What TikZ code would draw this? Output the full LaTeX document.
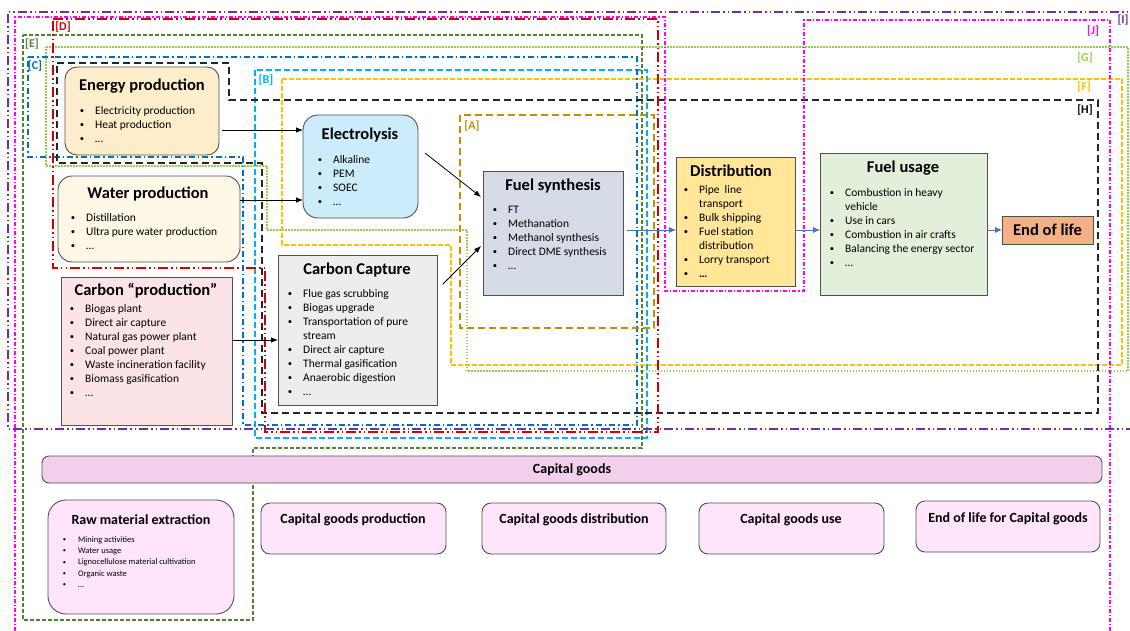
\documentclass[tikz,border=0pt]{standalone}
\usepackage{fontspec}
\usepackage{graphicx}
\setmainfont{Carlito}
\usetikzlibrary{arrows.meta}
\definecolor{cI}{HTML}{7030A0}
\definecolor{cJ}{HTML}{FF00FF}
\definecolor{cD}{HTML}{D00000}
\definecolor{cE}{HTML}{548235}
\definecolor{cG}{HTML}{92D050}
\definecolor{cC}{HTML}{0070C0}
\definecolor{cB}{HTML}{00B0F0}
\definecolor{cF}{HTML}{FFC000}
\definecolor{cA}{HTML}{BF9000}
\definecolor{bordergray}{HTML}{505050}
\definecolor{arrowblue}{HTML}{4472C4}
\definecolor{fEn}{HTML}{FEEDCB}
\definecolor{fWa}{HTML}{FFF8E6}
\definecolor{fEl}{HTML}{CCEBFB}
\definecolor{fFs}{HTML}{D6DCE5}
\definecolor{fCc}{HTML}{EDEDED}
\definecolor{fCp}{HTML}{FCE4E6}
\definecolor{fDi}{HTML}{FFE699}
\definecolor{fFu}{HTML}{E2EFDA}
\definecolor{fEo}{HTML}{F4B183}
\definecolor{fBar}{HTML}{F2D0EC}
\definecolor{fCg}{HTML}{FFE4FA}
\newcommand\bul{\strut\makebox[16pt][l]{\hspace*{0.6pt}\raisebox{0.12ex}{\scalebox{0.75}{\textbullet}}}}
\newcommand\ind{\strut\hspace*{16pt}}
\begin{document}
\begin{tikzpicture}[x=1pt,y=-1pt,
  bI/.style={draw=cI, line width=1.5pt, dash pattern=on 9pt off 3pt on 1.5pt off 3pt on 1.5pt off 3pt},
  bJ/.style={draw=cJ, line width=1.5pt, dash pattern=on 4pt off 2pt on 1.2pt off 2pt},
  bD/.style={draw=cD, line width=2pt, dash pattern=on 10pt off 3pt on 1.5pt off 3pt on 1.5pt off 3pt},
  bE/.style={draw=cE, line width=1.5pt, dash pattern=on 4pt off 2pt},
  bG/.style={draw=cG, line width=1.5pt, dash pattern=on 1.5pt off 1.5pt},
  bC/.style={draw=cC, line width=1.5pt, dash pattern=on 6pt off 3pt on 1.5pt off 3pt},
  bB/.style={draw=cB, line width=1.5pt, dash pattern=on 6pt off 3pt},
  bF/.style={draw=cF, line width=1.5pt, dash pattern=on 5pt off 2pt},
  bH/.style={draw=black!85, line width=1.8pt, dash pattern=on 7pt off 4pt},
  bA/.style={draw=cA, line width=1.5pt, dash pattern=on 7pt off 4pt},
  lab/.style={font=\fontsize{12}{14}\selectfont\bfseries, inner sep=0pt},
  box/.style={draw=bordergray, line width=0.9pt, anchor=north west, inner sep=0pt, outer sep=0pt},
  ttl/.style={font=\fontsize{16.5}{19}\selectfont\bfseries, inner sep=0pt, anchor=base},
  cttl/.style={font=\fontsize{14}{16}\selectfont\bfseries, inner sep=0pt, anchor=base},
  lst/.style={font=\fontsize{11.5}{14}\selectfont, inner sep=0pt, anchor=north west, align=left},
  slst/.style={font=\fontsize{8.5}{11.3}\selectfont, inner sep=0pt, anchor=north west, align=left},
  arr/.style={-{Latex[length=7pt,width=5.5pt]}, line width=0.8pt},
  barr/.style={arr, draw=arrowblue, -{Latex[length=7pt,width=6pt,fill=arrowblue]}}
]
\useasboundingbox (0,0) rectangle (1130,630);
\fill[white] (0,0) rectangle (1130,630);

% boundaries
\draw[bE] (23,35) -- (642,35) -- (642,448) -- (253,448) -- (253,620) -- (23,620) -- cycle;
\draw[bG] (46,47) -- (1128,47) -- (1128,371) -- (467,371) -- (467,230) -- (267,230) -- (267,166) -- (46,166) -- cycle;
\draw[bF] (282,79) -- (1122,79) -- (1122,365) -- (451,365) -- (451,245) -- (282,245) -- cycle;
\draw[bB] (255,70) rectangle (647,438);
\draw[bC] (28,57) -- (637,57) -- (637,425) -- (243,425) -- (243,157) -- (28,157) -- cycle;
\draw[bA] (460,115) rectangle (654,328);
\draw[bH] (57,63) -- (229,63) -- (229,100) -- (1098,100) -- (1098,413) -- (262,413) -- (262,163) -- (57,163) -- cycle;
\draw[bD] (53,19) -- (658,19) -- (658,432) -- (265,432) -- (265,268) -- (53,268) -- cycle;
\draw[bJ] (15,640) -- (15,17) -- (665,17) -- (665,291) -- (804,291) -- (804,20) -- (1110,20) -- (1110,640);
\draw[bI] (1140,12) -- (8,12) -- (8,429) -- (1140,429);

% labels
\node[lab, text=cD] (lD) at (63,27) {[D]};
\node[lab, text=cE] (lE) at (32,44) {[E]};
\node[lab, text=cC] (lC) at (35,66) {[C]};
\node[lab, text=cB] (lB) at (266,80) {[B]};
\node[lab, text=cA] (lA) at (472,126) {[A]};
\node[lab, text=cJ] (lJ) at (1093,31) {[J]};
\node[lab, text=cI] (lI) at (1123,20) {[I]};
\node[lab, text=cG] (lG) at (1085,58) {[G]};
\node[lab, text=cF] (lF) at (1084,87) {[F]};
\node[lab, text=black] (lH) at (1085,110) {[H]};

% main boxes
\node[box, rounded corners=12pt, fill=fEn, minimum width=154pt, minimum height=88pt] (en) at (65,67) {};
\node[ttl] (en-t) at (142,90.5) {Energy production};
\node[lst] (en-l) at (79,104) {\bul Electricity production\\ \bul Heat production\\ \bul …};

\node[box, rounded corners=14pt, fill=fWa, minimum width=182pt, minimum height=86pt] (wa) at (58,176) {};
\node[ttl] (wa-t) at (148,198.5) {Water production};
\node[lst] (wa-l) at (70,211) {\bul Distillation\\ \bul Ultra pure water production\\ \bul …};

\node[box, rounded corners=15pt, fill=fEl, minimum width=115pt, minimum height=103pt] (el) at (303,115) {};
\node[ttl] (el-t) at (360,139.5) {Electrolysis};
\node[lst] (el-l) at (317,153) {\bul Alkaline\\ \bul PEM\\ \bul SOEC\\ \bul …};

\node[box, fill=fFs, minimum width=140pt, minimum height=124pt] (fs) at (483,171) {};
\node[ttl] (fs-t) at (553,190.5) {Fuel synthesis};
\node[lst] (fs-l) at (492,203) {\bul FT\\ \bul Methanation\\ \bul Methanol synthesis\\ \bul Direct DME synthesis\\ \bul …};

\node[box, fill=fCc, minimum width=159pt, minimum height=150pt] (cc) at (278,255) {};
\node[ttl] (cc-t) at (357,274.5) {Carbon Capture};
\node[lst] (cc-l) at (287,287) {\bul Flue gas scrubbing\\ \bul Biogas upgrade\\ \bul Transportation of pure\\ \ind stream\\ \bul Direct air capture\\ \bul Thermal gasification\\ \bul Anaerobic digestion\\ \bul …};

\node[box, fill=fCp, minimum width=171pt, minimum height=148pt] (cp) at (61,277) {};
\node[ttl] (cp-t) at (146,295.5) {Carbon “production”};
\node[lst] (cp-l) at (69,302) {\bul Biogas plant\\ \bul Direct air capture\\ \bul Natural gas power plant\\ \bul Coal power plant\\ \bul Waste incineration facility\\ \bul Biomass gasification\\ \bul …};

\node[box, fill=fDi, minimum width=119pt, minimum height=129pt] (di) at (676,157) {};
\node[ttl] (di-t) at (731,176.5) {Distribution};
\node[lst] (di-l) at (683,183) {\bul Pipe\ \ line\\ \ind transport\\ \bul Bulk shipping\\ \bul Fuel station\\ \ind distribution\\ \bul Lorry transport\\ \bul \textbf{…}};

\node[box, fill=fFu, minimum width=167pt, minimum height=142pt] (fu) at (820,153) {};
\node[ttl] (fu-t) at (903,172.5) {Fuel usage};
\node[lst] (fu-l) at (829,186) {\bul Combustion in heavy\\ \ind vehicle\\ \bul Use in cars\\ \bul Combustion in air crafts\\ \bul Balancing the energy sector\\ \bul …};

\node[box, fill=fEo, minimum width=91pt, minimum height=28pt, font=\fontsize{16.5}{19}\selectfont\bfseries] (eol) at (1002,216) {End of life};

% capital goods
\node[box, rounded corners=7pt, fill=fBar, minimum width=1060pt, minimum height=27pt, font=\fontsize{14}{16}\selectfont\bfseries] (cg) at (42,456) {Capital goods};

\node[box, rounded corners=18pt, fill=fCg, minimum width=186pt, minimum height=114pt] (rm) at (48,500) {};
\node[cttl] (rm-t) at (141,524) {Raw material extraction};
\node[slst] (rm-l) at (62,534) {\bul Mining activities\\ \bul Water usage\\ \bul Lignocellulose material cultivation\\ \bul Organic waste\\ \bul …};

\node[box, rounded corners=9pt, fill=fCg, minimum width=185pt, minimum height=51pt] (cgp) at (261,503) {};
\node[cttl] (cgp-t) at (353,523) {Capital goods production};
\node[box, rounded corners=9pt, fill=fCg, minimum width=184pt, minimum height=51pt] (cgd) at (482,503) {};
\node[cttl] (cgd-t) at (574,523) {Capital goods distribution};
\node[box, rounded corners=9pt, fill=fCg, minimum width=185pt, minimum height=51pt] (cgu) at (699,503) {};
\node[cttl] (cgu-t) at (791,523) {Capital goods use};
\node[box, rounded corners=9pt, fill=fCg, minimum width=184pt, minimum height=51pt] (cge) at (916,501) {};
\node[cttl] (cge-t) at (1008,522) {End of life for Capital goods};

% arrows
\draw[arr] ([xshift=3pt]en.east |- 0,130) -- (el.west |- 0,130);
\draw[arr] (wa.east |- 0,200) -- (el.west |- 0,200);
\draw[arr] ([shift={(7,38)}]el.north east) -- ([shift={(-2,26)}]fs.north west);
\draw[arr] ([shift={(6,29)}]cc.north east) -- ([shift={(-2,75)}]fs.north west);
\draw[arr] (cp.east |- 0,340) -- (cc.west |- 0,340);
\draw[barr] ([xshift=4pt]fs.east |- 0,230) -- (di.west |- 0,230);
\draw[barr] (di.east |- 0,230) -- (fu.west |- 0,230);
\draw[barr] (fu.east |- eol.west) -- (eol.west);
\end{tikzpicture}
\end{document}
